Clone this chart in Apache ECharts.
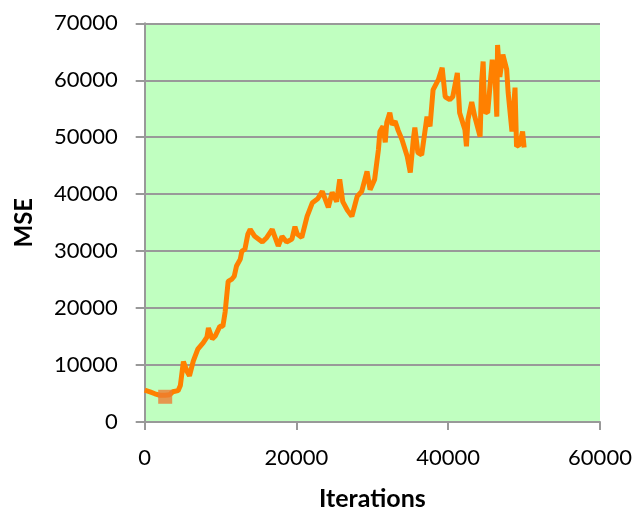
<!DOCTYPE html>
<html><head><meta charset="utf-8">
<script src="https://cdn.jsdelivr.net/npm/echarts@6/dist/echarts.min.js"></script>
<style>html,body{margin:0;padding:0;background:#fff}#c{width:637px;height:516px}</style>
</head><body><div id="c"></div>
<script>
const iterations = [0,700,1350,2000,2700,3300,3700,4400,4700,5100,5600,5900,6400,7000,7700,8200,8400,8900,9300,9900,10300,10600,10800,11000,11500,11800,12100,12600,12800,13200,13600,13900,14500,15500,16100,16800,17600,18100,18700,19400,19800,20100,20700,21400,22100,22800,23400,24200,24700,25300,25700,26100,26700,27300,28000,28600,29300,29700,30300,30800,31000,31400,31700,31900,32300,32600,33000,33400,33900,34600,35000,35400,35600,36000,36500,37200,37600,38000,38700,39200,39600,40200,40600,41200,41500,42200,42400,42600,43100,43500,44200,44400,44600,44800,45200,45800,46200,46400,46500,46800,47200,47700,47900,48400,48800,49000,49400,49800,50000];
const mse = [5600,5300,4950,4700,4700,4800,5300,5500,6400,10600,8800,8100,10700,12800,13900,14900,16500,14600,15100,16800,16800,19300,19400,24700,25100,25600,27400,28600,30000,30300,33000,33800,32600,31600,32400,33800,30900,32600,31600,32100,34300,33000,32400,36100,38500,39200,40500,37700,40300,38700,42600,38700,37200,36100,39600,40500,44000,40800,42600,47800,51000,51900,49100,52600,54300,52200,52800,51200,49600,46600,43800,49600,51700,47300,46900,53600,51900,58300,60100,62200,57100,56600,57100,61300,54300,51300,48400,53100,56200,53600,50100,59600,63300,54500,54300,63600,59600,53600,66200,60600,64500,61900,57800,51000,58700,48400,48700,51000,48200];
const markerPoint = [[2700, 4430]];
const xTicks = [0,20000,40000,60000];
const yTicks = [0,10000,20000,30000,40000,50000,60000,70000];

const chart = echarts.init(document.getElementById('c'));
const font = 'Lato, "Open Sans", sans-serif';
chart.setOption({
  animation:false,
  grid:{left:144.7,right:37,top:23.3,bottom:92.7,show:true,backgroundColor:'#C0FFC0',borderWidth:0},
  xAxis:{type:'value',min:xTicks[0],max:xTicks[xTicks.length-1],interval:20000,
    name:'Iterations',nameLocation:'middle',nameGap:64,
    nameTextStyle:{fontFamily:font,fontSize:25,fontWeight:'bold',color:'#000'},
    axisLine:{show:true,lineStyle:{color:'#999',width:2}},
    axisTick:{show:true,length:8,lineStyle:{color:'#999',width:2}},
    axisLabel:{fontFamily:font,fontSize:22,color:'#000',margin:25,formatter:v=>String(v)},
    splitLine:{show:false}},
  yAxis:{type:'value',min:yTicks[0],max:yTicks[yTicks.length-1],interval:10000,
    name:'MSE',nameLocation:'middle',nameGap:108,nameRotate:90,
    nameTextStyle:{fontFamily:font,fontSize:24,fontWeight:'bold',color:'#000'},
    axisLine:{show:true,lineStyle:{color:'#999',width:2}},
    axisTick:{show:true,length:9,lineStyle:{color:'#999',width:2}},
    axisLabel:{fontFamily:font,fontSize:22,color:'#000',margin:27,formatter:v=>String(v)},
    splitLine:{show:true,lineStyle:{color:'#999',width:2}}},
  series:[
    {type:'line',data:iterations.map((x,i)=>[x,mse[i]]),showSymbol:false,
     lineStyle:{color:'#FF8000',width:5},itemStyle:{color:'#FF8000'}},
    {type:'scatter',data:markerPoint,symbol:'rect',symbolSize:14,itemStyle:{color:'#ED7D31'},z:5}
  ]
});
</script></body></html>
